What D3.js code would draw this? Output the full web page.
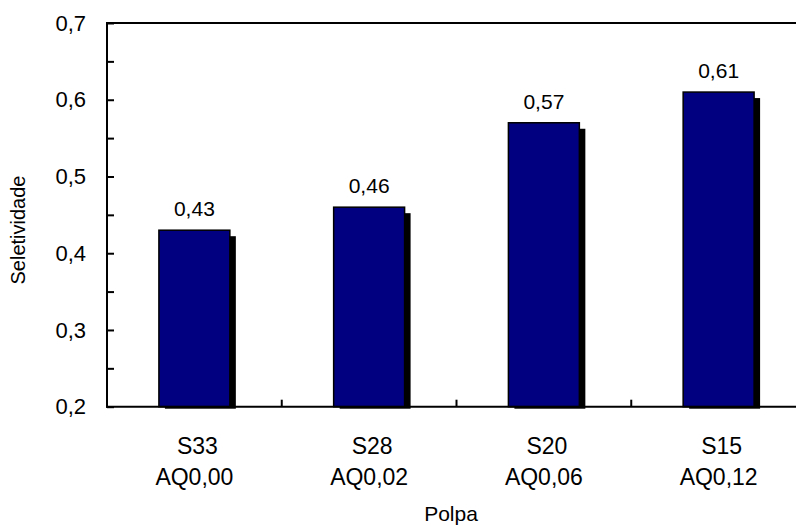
<!DOCTYPE html>
<html><head><meta charset="utf-8">
<script src="https://cdnjs.cloudflare.com/ajax/libs/d3/7.8.5/d3.min.js"></script>
<style>body{margin:0;background:#fff}svg{display:block}text{font-family:"Liberation Sans",Arial,sans-serif;fill:#000}</style>
</head><body><svg id="c" width="796" height="527"></svg>
<script>
const cats1 = ["S33","S28","S20","S15"];
const cats2 = ["AQ0,00","AQ0,02","AQ0,06","AQ0,12"];
const values = [0.43,0.46,0.57,0.61];
const yTicks = [0.2,0.3,0.4,0.5,0.6,0.7];
const yMinor = [0.25,0.35,0.45,0.55,0.65];

const svg = d3.select("#c");
const L=107, R=806, T=23, B=406.7;
const x = d3.scaleBand().domain(cats1).range([L,R]).paddingInner(0.594).paddingOuter(0.297);
const y = d3.scaleLinear().domain([0.2,0.7]).range([B,T]);
const fmt = v => d3.format(".2f")(v).replace(".",",");
const fmt1 = v => d3.format(".1f")(v).replace(".",",");

// shadows
svg.append("g").selectAll("rect").data(values).join("rect")
  .attr("x",(d,i)=>x(cats1[i])+6).attr("y",d=>y(d)+6)
  .attr("width",x.bandwidth()).attr("height",d=>B+2-(y(d)+6))
  .attr("fill","#000");
// bars
svg.append("g").selectAll("rect").data(values).join("rect")
  .attr("x",(d,i)=>x(cats1[i])).attr("y",d=>y(d))
  .attr("width",x.bandwidth()).attr("height",d=>B-y(d))
  .attr("fill","#000080").attr("stroke","#000").attr("stroke-width",1.5);
// value labels
svg.append("g").selectAll("text").data(values).join("text")
  .attr("x",(d,i)=>x(cats1[i])+x.bandwidth()/2).attr("y",d=>y(d)-14)
  .attr("text-anchor","middle").style("font-size","21px").text(d=>fmt(d));

// axes frame
const ax = svg.append("g").attr("stroke","#000").attr("stroke-width",2).attr("fill","none");
ax.append("line").attr("x1",L).attr("x2",L).attr("y1",T).attr("y2",B+1);
ax.append("line").attr("x1",L-1).attr("x2",R).attr("y1",T).attr("y2",T);
ax.append("line").attr("x1",L-1).attr("x2",R).attr("y1",B).attr("y2",B);

// y axis ticks (inward)
const yAxis = d3.axisLeft(y).tickValues(yTicks.concat(yMinor)).tickSizeInner(-7).tickSizeOuter(0).tickFormat(d=>yTicks.includes(d)?fmt1(d):"").tickPadding(21);
const gy = svg.append("g").attr("transform",`translate(${L},0)`).call(yAxis);
gy.select(".domain").remove();
gy.selectAll(".tick line").attr("stroke","#000").attr("stroke-width",2);
gy.selectAll(".tick text").style("font-size","22px").style("font-family","'Liberation Sans',Arial,sans-serif").attr("fill","#000");

// x ticks at category boundaries
const bounds = cats1.slice(1).map(c=>x(c)-x.step()*x.paddingInner()/2);
svg.append("g").selectAll("line").data(bounds).join("line")
  .attr("x1",d=>d).attr("x2",d=>d).attr("y1",B).attr("y2",B-7)
  .attr("stroke","#000").attr("stroke-width",2);

// category labels
const gl = svg.append("g").selectAll("text").data(cats1).join("text")
  .attr("text-anchor","middle").style("font-size","23px");
gl.append("tspan").attr("x",d=>x(d)+x.bandwidth()/2+3).attr("y",454).text(d=>d);
gl.append("tspan").attr("x",d=>x(d)+x.bandwidth()/2).attr("y",485).text((d,i)=>cats2[i]);

// axis titles
svg.append("text").attr("x",451).attr("y",521).attr("text-anchor","middle").style("font-size","21px").text("Polpa");
svg.append("text").attr("transform","translate(25,230) rotate(-90)").attr("text-anchor","middle").style("font-size","20px").text("Seletividade");
</script></body></html>
